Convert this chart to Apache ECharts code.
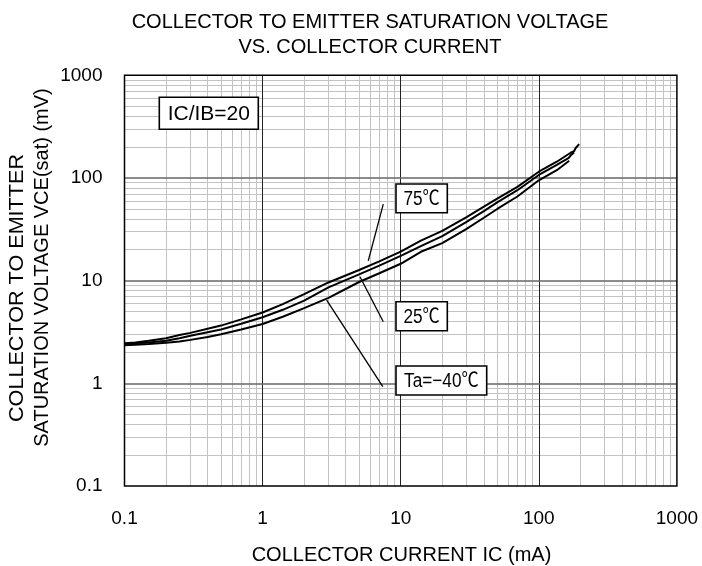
<!DOCTYPE html>
<html>
<head>
<meta charset="utf-8">
<script src="https://cdn.jsdelivr.net/npm/echarts@6/dist/echarts.min.js"></script>
<style>html,body{margin:0;padding:0;background:#fff;}#c{width:702px;height:566px;}</style>
</head>
<body>
<div id="c"></div>
<script>
// ---- data (IC in mA, VCE(sat) in mV) ----
const xTicks = [0.1, 1, 10, 100, 1000];
const xTickLabels = ['0.1', '1', '10', '100', '1000'];
const yTicks = [0.1, 1, 10, 100, 1000];
const yTickLabels = ['0.1', '1', '10', '100', '1000'];

const ic75 = [0.1, 0.12, 0.15, 0.2, 0.25, 0.3, 0.4, 0.5, 0.7, 1, 1.4, 2, 3, 5, 7, 10, 14, 20, 30, 40, 50, 70, 100, 135, 170, 180, 185, 196];
const vce75 = [2.45, 2.5, 2.6, 2.75, 2.95, 3.1, 3.4, 3.65, 4.2, 4.9, 5.9, 7.4, 9.6, 12.7, 15.4, 19.2, 24.5, 30.5, 41.6, 52.5, 63, 82, 115, 144, 176, 182, 196, 214];

const ic25 = [0.1, 0.12, 0.15, 0.2, 0.25, 0.3, 0.4, 0.5, 0.7, 1, 1.4, 2, 3, 5, 7, 10, 14, 20, 30, 40, 50, 70, 100, 135, 165, 170, 180];
const vce25 = [2.4, 2.45, 2.5, 2.6, 2.75, 2.9, 3.15, 3.35, 3.8, 4.4, 5.2, 6.4, 8.6, 11.5, 14, 17.4, 21.7, 27.1, 37.3, 47.6, 57.9, 76, 107, 134, 157, 166, 177];

const icm40 = [0.1, 0.12, 0.15, 0.2, 0.25, 0.3, 0.4, 0.5, 0.7, 1, 1.4, 2, 3, 5, 7, 10, 14, 20, 30, 40, 50, 70, 100, 135, 166];
const vcem40 = [2.35, 2.38, 2.42, 2.48, 2.55, 2.65, 2.82, 3.0, 3.35, 3.78, 4.45, 5.4, 6.8, 9.7, 11.8, 14.6, 19.1, 23.2, 31.9, 41, 49.9, 66, 95, 119, 147];

// leader lines (data coordinates)
const lead75 = [[7.48, 55.7], [5.82, 15.6]];
const lead25 = [[5.07, 10.9], [7.48, 3.98]];
const leadm40 = [[2.91, 6.47], [7.42, 0.927]];

const labelTexts = ['IC/IB=20', '75℃', '25℃', 'Ta=−40℃'];
const titleLines = ['COLLECTOR TO EMITTER SATURATION VOLTAGE', 'VS. COLLECTOR CURRENT'];
const yNameLines = ['COLLECTOR TO EMITTER', 'SATURATION VOLTAGE VCE(sat) (mV)'];
const xName = 'COLLECTOR CURRENT IC (mA)';

// ---- helpers ----
function zip(a, b) { return a.map((v, i) => [v, b[i]]); }
const minorVals = [];
[0.1, 1, 10, 100].forEach(d => { for (let k = 2; k <= 9; k++) minorVals.push(+(d * k).toPrecision(3)); });

const FONT = '"Liberation Sans", Arial, "Noto Sans CJK JP", sans-serif';

function curve(name, data) {
  return {
    name, type: 'line', data, showSymbol: false, symbol: 'none', z: 6,
    lineStyle: { color: '#000', width: 2 }, smooth: false, silent: true
  };
}
function leader(data) {
  return { type: 'line', data, showSymbol: false, symbol: 'none', z: 5,
    lineStyle: { color: '#000', width: 1.3 }, silent: true };
}

const chart = echarts.init(document.getElementById('c'), null, { renderer: 'canvas' });

const option = {
  animation: false,
  backgroundColor: '#fff',
  grid: { left: 124.5, top: 75.3, width: 552.4, height: 410.7, show: true, borderColor: '#000', borderWidth: 1.5, backgroundColor: 'transparent', z: 10 },
  xAxis: {
    type: 'log', logBase: 10, min: 0.1, max: 1000,
    axisLine: { show: false }, axisTick: { show: false }, splitLine: { show: false },
    axisLabel: {
      fontSize: 19, color: '#000', fontFamily: FONT, margin: 23,
      formatter: v => { const i = xTicks.findIndex(t => Math.abs(Math.log10(t) - Math.log10(v)) < 1e-6); return i >= 0 ? xTickLabels[i] : ''; }
    }
  },
  yAxis: {
    type: 'log', logBase: 10, min: 0.1, max: 1000,
    axisLine: { show: false }, axisTick: { show: false }, splitLine: { show: false },
    axisLabel: {
      fontSize: 19, color: '#000', fontFamily: FONT, margin: 22,
      formatter: v => { const i = yTicks.findIndex(t => Math.abs(Math.log10(t) - Math.log10(v)) < 1e-6); return i >= 0 ? yTickLabels[i] : ''; }
    }
  },
  series: [
    { type: 'line', data: [[0.1, 1]], showSymbol: false, symbol: 'none', lineStyle: { opacity: 0 }, z: 1, silent: true,
      markLine: { silent: true, symbol: 'none', label: { show: false }, animation: false,
        lineStyle: { color: '#c3c3c3', width: 1, type: 'solid' },
        data: minorVals.map(v => ({ xAxis: v })).concat(minorVals.map(v => ({ yAxis: v }))) } },
    { type: 'line', data: [[0.1, 1]], showSymbol: false, symbol: 'none', lineStyle: { opacity: 0 }, z: 2, silent: true,
      markLine: { silent: true, symbol: 'none', label: { show: false }, animation: false,
        data: [1, 10, 100].map(v => ({ xAxis: v, lineStyle: { color: '#222', width: 1, type: 'solid' } }))
          .concat([1, 10, 100].map(v => ({ yAxis: v, lineStyle: { color: '#666', width: 1.6, type: 'solid' } }))) } },
    curve('75', zip(ic75, vce75)),
    curve('25', zip(ic25, vce25)),
    curve('-40', zip(icm40, vcem40)),
    leader(lead75), leader(lead25), leader(leadm40)
  ]
};

chart.setOption(option);

function box(x, y, w, h, text, fs, sx) {
  return [
    { type: 'rect', z: 50, shape: { x: x, y: y, width: w, height: h }, style: { fill: '#fff', stroke: '#000', lineWidth: 1.6 } },
    { type: 'text', z: 51, x: x + w / 2, y: y + h / 2 + 1, scaleX: sx, style: { text, fill: '#000', font: fs + 'px ' + FONT, textAlign: 'center', textVerticalAlign: 'middle' } }
  ];
}

const graphics = [
  { type: 'text', z: 50, x: 370, y: 22, style: { text: titleLines[0], fill: '#000', font: '20px ' + FONT, textAlign: 'center', textVerticalAlign: 'middle' } },
  { type: 'text', z: 50, x: 370, y: 47.5, style: { text: titleLines[1], fill: '#000', font: '20px ' + FONT, textAlign: 'center', textVerticalAlign: 'middle' } },
  { type: 'text', z: 50, x: 17.5, y: 288, rotation: Math.PI / 2, scaleX: 1.08, style: { text: yNameLines[0], fill: '#000', font: '20px ' + FONT, textAlign: 'center', textVerticalAlign: 'middle' } },
  { type: 'text', z: 50, x: 42.5, y: 267.5, rotation: Math.PI / 2, style: { text: yNameLines[1], fill: '#000', font: '20px ' + FONT, textAlign: 'center', textVerticalAlign: 'middle' } },
  { type: 'text', z: 50, x: 401.5, y: 555, style: { text: xName, fill: '#000', font: '20px ' + FONT, textAlign: 'center', textVerticalAlign: 'middle' } }
].concat(
  box(159.3, 97.3, 99, 32, labelTexts[0], 21, 1),
  box(396, 184, 51.3, 28.7, labelTexts[1], 20, 0.86),
  box(396, 301.7, 51.3, 29, labelTexts[2], 20, 0.86),
  box(396, 366, 90.7, 29, labelTexts[3], 20, 0.86)
);
chart.setOption({ graphic: graphics });
</script>
</body>
</html>
